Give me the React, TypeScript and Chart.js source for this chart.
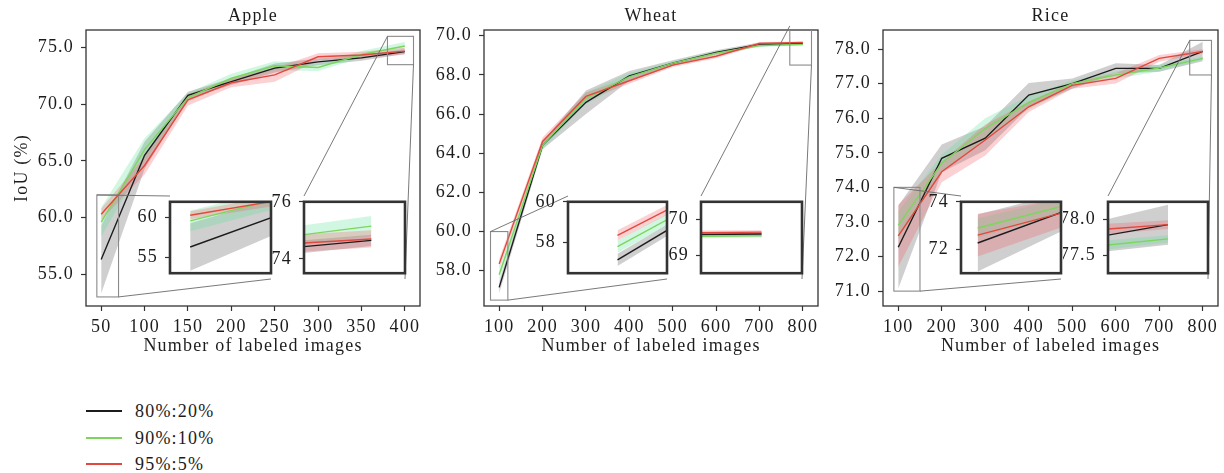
import React, { useEffect, useRef } from "react";
import { Chart, registerables } from "chart.js";

Chart.register(...registerables);

// ---------------- data ----------------
const SERIES_LABELS = ["80%:20%", "90%:10%", "95%:5%"];
const X_TITLE = "Number of labeled images";
const Y_TITLE = "IoU (%)";

// Apple
const appleX = [50, 100, 150, 200, 250, 300, 350, 400];
const appleMean8020 = [56.3, 65.5, 70.8, 72.0, 73.2, 73.75, 74.1, 74.65];
const appleStd8020 = [3.0, 1.2, 0.3, 0.3, 0.4, 0.3, 0.25, 0.2];
const appleMean9010 = [59.6, 66.0, 70.6, 72.3, 73.4, 73.25, 74.4, 75.15];
const appleStd9010 = [1.3, 1.0, 0.4, 0.4, 0.4, 0.3, 0.3, 0.35];
const appleMean955 = [60.3, 64.6, 70.4, 71.9, 72.6, 74.2, 74.35, 74.7];
const appleStd955 = [0.5, 0.8, 0.5, 0.4, 0.6, 0.3, 0.3, 0.3];
const appleXTicks = [50, 100, 150, 200, 250, 300, 350, 400];
const appleYTicks = [55, 60, 65, 70, 75];
const appleInset1Ticks = [55, 60];
const appleInset2Ticks = [74, 76];

// Wheat
const wheatX = [100, 200, 300, 400, 500, 600, 700, 800];
const wheatMean8020 = [57.15, 64.4, 66.6, 67.95, 68.6, 69.15, 69.55, 69.6];
const wheatStd8020 = [0.3, 0.2, 0.6, 0.25, 0.15, 0.1, 0.1, 0.05];
const wheatMean9010 = [57.8, 64.4, 66.8, 67.9, 68.6, 69.1, 69.5, 69.55];
const wheatStd9010 = [0.3, 0.2, 0.3, 0.2, 0.1, 0.1, 0.08, 0.05];
const wheatMean955 = [58.35, 64.6, 66.9, 67.7, 68.5, 68.95, 69.6, 69.65];
const wheatStd955 = [0.25, 0.2, 0.2, 0.15, 0.1, 0.1, 0.08, 0.05];
const wheatXTicks = [100, 200, 300, 400, 500, 600, 700, 800];
const wheatYTicks = [58, 60, 62, 64, 66, 68, 70];
const wheatInset1Ticks = [58, 60];
const wheatInset2Ticks = [69, 70];

// Rice
const riceX = [100, 200, 300, 400, 500, 600, 700, 800];
const riceMean8020 = [72.27, 74.84, 75.42, 76.67, 77.0, 77.44, 77.44, 77.93];
const riceStd8020 = [1.2, 0.4, 0.35, 0.35, 0.15, 0.15, 0.1, 0.28];
const riceMean9010 = [72.9, 74.7, 75.7, 76.45, 77.0, 77.25, 77.45, 77.73];
const riceStd9010 = [0.4, 0.25, 0.3, 0.2, 0.1, 0.1, 0.1, 0.05];
const riceMean955 = [72.6, 74.45, 75.37, 76.33, 76.95, 77.15, 77.73, 77.93];
const riceStd955 = [0.9, 0.3, 0.45, 0.15, 0.1, 0.15, 0.1, 0.06];
const riceXTicks = [100, 200, 300, 400, 500, 600, 700, 800];
const riceYTicks = [71, 72, 73, 74, 75, 76, 77, 78];
const riceInset1Ticks = [72, 74];
const riceInset2Ticks = [77.5, 78.0];

// ---------------- style ----------------
const FONT_FAMILY = '"Liberation Serif", "Times New Roman", serif';
const FONT_SIZE = 18;
const LETTER_SPACING = "1.2px";
const TEXT_COLOR = "#1c1c1c";
const AXIS_COLOR = "#333333";
const SERIES_COLORS = ["#1c1c1c", "#7cd65c", "#e2483d"];
const BAND_COLORS = ["rgba(128,128,128,0.38)", "rgba(90,225,150,0.28)", "rgba(240,90,100,0.28)"];

const PLOT_TOP = 30;
const PLOT_BOTTOM = 306;
const INSET_TOP = 196;
const INSET_BOTTOM = 279;
const CANVAS_H = 362;

type Inset = { xRange: number[]; yRange: number[]; ticks: number[]; decimals: number; boxLeft: number; boxRight: number };
type Panel = {
  title: string;
  xs: number[];
  means: number[][];
  stds: number[][];
  xTicks: number[];
  yTicks: number[];
  xRange: number[];
  yRange: number[];
  plotLeft: number;
  plotRight: number;
  yTitle: boolean;
  insets: Inset[];
};

const PANELS: Panel[] = [
  {
    title: "Apple",
    xs: appleX,
    means: [appleMean8020, appleMean9010, appleMean955],
    stds: [appleStd8020, appleStd9010, appleStd955],
    xTicks: appleXTicks,
    yTicks: appleYTicks,
    xRange: [32.5, 417.5],
    yRange: [52.2, 76.56],
    plotLeft: 86,
    plotRight: 420,
    yTitle: true,
    insets: [
      { xRange: [45, 70], yRange: [53, 62], ticks: appleInset1Ticks, decimals: 0, boxLeft: 170, boxRight: 271 },
      { xRange: [380, 410], yRange: [73.5, 76], ticks: appleInset2Ticks, decimals: 0, boxLeft: 304, boxRight: 405 },
    ],
  },
  {
    title: "Wheat",
    xs: wheatX,
    means: [wheatMean8020, wheatMean9010, wheatMean955],
    stds: [wheatStd8020, wheatStd9010, wheatStd955],
    xTicks: wheatXTicks,
    yTicks: wheatYTicks,
    xRange: [65, 835],
    yRange: [56.2, 70.29],
    plotLeft: 484,
    plotRight: 818,
    yTitle: false,
    insets: [
      { xRange: [80, 120], yRange: [56.5, 60], ticks: wheatInset1Ticks, decimals: 0, boxLeft: 568, boxRight: 667 },
      { xRange: [770, 820], yRange: [68.5, 70.5], ticks: wheatInset2Ticks, decimals: 0, boxLeft: 701, boxRight: 802 },
    ],
  },
  {
    title: "Rice",
    xs: riceX,
    means: [riceMean8020, riceMean9010, riceMean955],
    stds: [riceStd8020, riceStd9010, riceStd955],
    xTicks: riceXTicks,
    yTicks: riceYTicks,
    xRange: [65, 835],
    yRange: [70.57, 78.55],
    plotLeft: 883,
    plotRight: 1218,
    yTitle: false,
    insets: [
      { xRange: [90, 150], yRange: [71, 74], ticks: riceInset1Ticks, decimals: 0, boxLeft: 961, boxRight: 1061 },
      { xRange: [770, 820], yRange: [77.25, 78.25], ticks: riceInset2Ticks, decimals: 1, boxLeft: 1108, boxRight: 1208 },
    ],
  },
];

const font = { family: FONT_FAMILY, size: FONT_SIZE, weight: "normal" as const, lineHeight: 1.2 };

// ---------------- plugins ----------------
const spacingPlugin = {
  id: "letterSpacingPlugin",
  beforeUpdate(chart: any) {
    chart.ctx.letterSpacing = LETTER_SPACING;
  },
  beforeDraw(chart: any) {
    chart.ctx.letterSpacing = LETTER_SPACING;
  },
};

const framePlugin = {
  id: "framePlugin",
  beforeDraw(chart: any, _a: any, opts: any) {
    if (!opts.fill) return;
    const { ctx, chartArea: c } = chart;
    ctx.save();
    ctx.fillStyle = opts.fill;
    ctx.fillRect(c.left, c.top, c.right - c.left, c.bottom - c.top);
    ctx.restore();
  },
  afterDraw(chart: any, _a: any, opts: any) {
    const { ctx, chartArea: c } = chart;
    ctx.save();
    ctx.strokeStyle = AXIS_COLOR;
    ctx.lineWidth = opts.width || 1.3;
    ctx.strokeRect(c.left, c.top, c.right - c.left, c.bottom - c.top);
    ctx.restore();
  },
};

const zoomPlugin = {
  id: "zoomMarks",
  afterDraw(chart: any, _a: any, opts: any) {
    if (!opts.insets) return;
    const { ctx, chartArea: c } = chart;
    const xs = chart.scales.x;
    const ys = chart.scales.y;
    for (const ins of opts.insets as Inset[]) {
      const x0 = xs.getPixelForValue(ins.xRange[0]);
      const x1 = xs.getPixelForValue(ins.xRange[1]);
      const y0 = ys.getPixelForValue(ins.yRange[1]);
      const y1 = ys.getPixelForValue(ins.yRange[0]);
      ctx.save();
      ctx.beginPath();
      ctx.rect(c.left, c.top, c.right - c.left, c.bottom - c.top);
      ctx.clip();
      ctx.strokeStyle = "#8a8a8a";
      ctx.lineWidth = 1.1;
      ctx.strokeRect(x0, y0, x1 - x0, y1 - y0);
      ctx.restore();
      const bx0 = ins.boxLeft - opts.offsetX;
      const bx1 = ins.boxRight - opts.offsetX;
      const by0 = INSET_TOP - opts.offsetY;
      const by1 = INSET_BOTTOM - opts.offsetY;
      ctx.save();
      ctx.strokeStyle = "#6a6a6a";
      ctx.lineWidth = 0.9;
      ctx.beginPath();
      ctx.moveTo(x0, y0);
      ctx.lineTo(bx0, by0);
      ctx.moveTo(x1, y1);
      ctx.lineTo(bx1, by1);
      ctx.stroke();
      ctx.restore();
    }
  },
};

// ---------------- builders ----------------
function buildDatasets(xs: number[], means: number[][], stds: number[][], lw: number) {
  const ds: any[] = [];
  for (let i = 0; i < 3; i++) {
    ds.push({
      label: SERIES_LABELS[i],
      data: xs.map((x, j) => ({ x, y: means[i][j] })),
      borderColor: SERIES_COLORS[i],
      borderWidth: lw,
      pointRadius: 0,
      fill: false,
      tension: 0,
      order: 2 - i,
      clip: 0,
    });
  }
  for (let i = 0; i < 3; i++) {
    ds.push({
      label: SERIES_LABELS[i] + " +std",
      data: xs.map((x, j) => ({ x, y: means[i][j] + stds[i][j] })),
      borderColor: "rgba(0,0,0,0)",
      borderWidth: 0,
      pointRadius: 0,
      backgroundColor: BAND_COLORS[i],
      fill: "+1",
      tension: 0,
      order: 10 - 2 * i,
      clip: 0,
    });
    ds.push({
      label: SERIES_LABELS[i] + " -std",
      data: xs.map((x, j) => ({ x, y: means[i][j] - stds[i][j] })),
      borderColor: "rgba(0,0,0,0)",
      borderWidth: 0,
      pointRadius: 0,
      fill: false,
      tension: 0,
      order: 9 - 2 * i,
      clip: 0,
    });
  }
  return ds;
}

function mainGeometry(p: Panel) {
  const yW = p.yTitle ? 86 : 64;
  const left = p.plotLeft - yW;
  const width = yW + (p.plotRight - p.plotLeft) + 10;
  return { yW, left, width };
}

function makeMainConfig(p: Panel): any {
  const g = mainGeometry(p);
  return {
    type: "line",
    data: { datasets: buildDatasets(p.xs, p.means, p.stds, 1.4) },
    options: {
      animation: false,
      responsive: false,
      devicePixelRatio: 1,
      events: [],
      layout: { autoPadding: false, padding: { left: 0, right: 10, top: 5, bottom: CANVAS_H - PLOT_BOTTOM - 51 } },
      plugins: {
        legend: { display: false },
        tooltip: { enabled: false },
        title: {
          display: true,
          text: p.title,
          fullSize: false,
          font,
          color: TEXT_COLOR,
          padding: { top: 0, bottom: PLOT_TOP - 5 - FONT_SIZE * 1.2 },
        },
        framePlugin: { width: 1.3 },
        zoomMarks: { insets: p.insets, offsetX: g.left, offsetY: 0 },
      },
      scales: {
        x: {
          type: "linear",
          min: p.xRange[0],
          max: p.xRange[1],
          afterBuildTicks: (s: any) => {
            s.ticks = p.xTicks.map((v) => ({ value: v }));
          },
          afterFit: (s: any) => {
            s.height = 51;
          },
          ticks: { font, color: TEXT_COLOR, padding: 5, autoSkip: false, maxRotation: 0, callback: (v: any) => String(v) },
          grid: { display: true, drawOnChartArea: false, drawTicks: true, tickLength: 5, color: AXIS_COLOR, tickWidth: 1.2 },
          border: { display: false },
          title: { display: true, text: X_TITLE, font, color: TEXT_COLOR, padding: 0 },
        },
        y: {
          type: "linear",
          min: p.yRange[0],
          max: p.yRange[1],
          afterBuildTicks: (s: any) => {
            s.ticks = p.yTicks.map((v) => ({ value: v }));
          },
          afterFit: (s: any) => {
            s.width = g.yW;
          },
          ticks: { font, color: TEXT_COLOR, padding: 7, callback: (v: any) => Number(v).toFixed(1) },
          grid: { display: true, drawOnChartArea: false, drawTicks: true, tickLength: 5, color: AXIS_COLOR, tickWidth: 1.2 },
          border: { display: false },
          title: { display: p.yTitle, text: Y_TITLE, font, color: TEXT_COLOR, padding: { top: 11, bottom: 0 } },
        },
      },
    },
    plugins: [spacingPlugin, framePlugin, zoomPlugin],
  };
}

const INSET_YW = 45;
function insetGeometry(ins: Inset) {
  return {
    left: ins.boxLeft - INSET_YW,
    top: INSET_TOP - 12,
    width: INSET_YW + (ins.boxRight - ins.boxLeft) + 4,
    height: INSET_BOTTOM - INSET_TOP + 24,
  };
}

function makeInsetConfig(p: Panel, ins: Inset): any {
  return {
    type: "line",
    data: { datasets: buildDatasets(p.xs, p.means, p.stds, 1.4) },
    options: {
      animation: false,
      responsive: false,
      devicePixelRatio: 1,
      events: [],
      layout: { autoPadding: false, padding: { left: 0, right: 4, top: 12, bottom: 12 } },
      plugins: {
        legend: { display: false },
        tooltip: { enabled: false },
        title: { display: false },
        framePlugin: { width: 2.6, fill: "#ffffff" },
      },
      scales: {
        x: { type: "linear", display: false, min: ins.xRange[0], max: ins.xRange[1] },
        y: {
          type: "linear",
          min: ins.yRange[0],
          max: ins.yRange[1],
          afterBuildTicks: (s: any) => {
            s.ticks = ins.ticks.map((v) => ({ value: v }));
          },
          afterFit: (s: any) => {
            s.width = INSET_YW;
          },
          ticks: { font, color: TEXT_COLOR, padding: 7, callback: (v: any) => Number(v).toFixed(ins.decimals) },
          grid: { display: true, drawOnChartArea: false, drawTicks: true, tickLength: 5, color: AXIS_COLOR, tickWidth: 1.2 },
          border: { display: false },
        },
      },
    },
    plugins: [spacingPlugin, framePlugin],
  };
}

// ---------------- components ----------------
function ChartCanvas(props: { left: number; top: number; width: number; height: number; make: () => any }) {
  const ref = useRef<HTMLCanvasElement>(null);
  useEffect(() => {
    const chart = new Chart(ref.current as HTMLCanvasElement, props.make());
    return () => chart.destroy();
  }, []);
  return (
    <canvas
      ref={ref}
      width={props.width}
      height={props.height}
      style={{ position: "absolute", left: props.left, top: props.top, width: props.width, height: props.height }}
    />
  );
}

function Legend() {
  const rows = [411, 437.5, 464];
  return (
    <>
      {SERIES_LABELS.map((lab, i) => (
        <div key={lab} style={{ position: "absolute", left: 86, top: rows[i] - 12, height: 24, display: "flex", alignItems: "center" }}>
          <div style={{ width: 36, height: 2, background: SERIES_COLORS[i] }} />
          <span
            style={{
              marginLeft: 13,
              fontFamily: FONT_FAMILY,
              fontSize: FONT_SIZE,
              letterSpacing: LETTER_SPACING,
              color: TEXT_COLOR,
              lineHeight: "24px",
              whiteSpace: "nowrap",
            }}
          >
            {lab}
          </span>
        </div>
      ))}
    </>
  );
}

export default function App() {
  return (
    <div style={{ position: "absolute", left: 0, top: 0, width: 1224, height: 473, background: "#ffffff", overflow: "hidden" }}>
      {PANELS.map((p) => {
        const g = mainGeometry(p);
        return <ChartCanvas key={p.title} left={g.left} top={0} width={g.width} height={CANVAS_H} make={() => makeMainConfig(p)} />;
      })}
      {PANELS.map((p) =>
        p.insets.map((ins, k) => {
          const g = insetGeometry(ins);
          return <ChartCanvas key={p.title + k} left={g.left} top={g.top} width={g.width} height={g.height} make={() => makeInsetConfig(p, ins)} />;
        })
      )}
      <Legend />
    </div>
  );
}
